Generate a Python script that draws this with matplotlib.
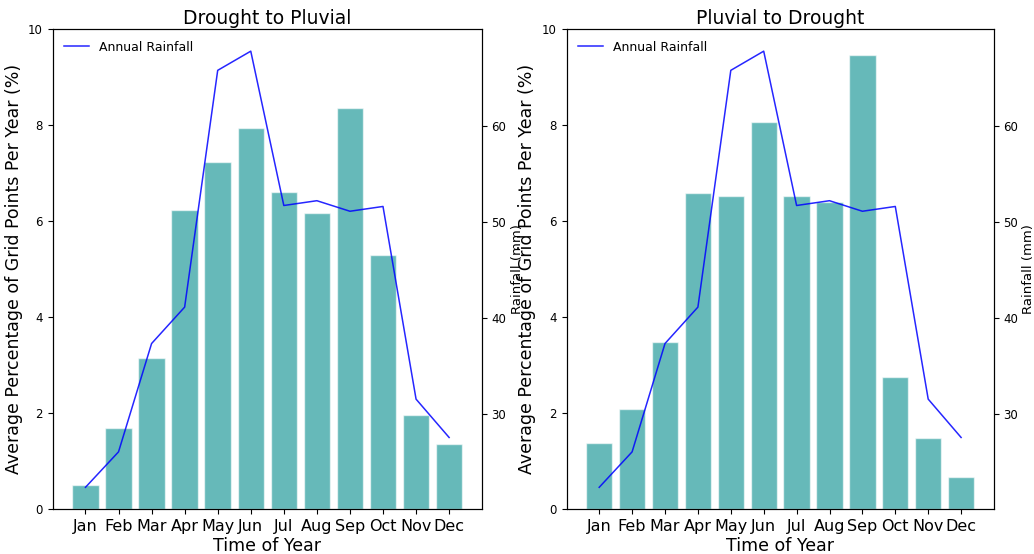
import matplotlib
matplotlib.use("Agg")
import matplotlib.pyplot as plt
import numpy as np

months = ["Jan", "Feb", "Mar", "Apr", "May", "Jun",
          "Jul", "Aug", "Sep", "Oct", "Nov", "Dec"]

# average % of grid points per year
drought_to_pluvial = [0.50, 1.70, 3.15, 6.23, 7.23, 7.94, 6.62, 6.18, 8.37, 5.30, 1.96, 1.35]
pluvial_to_drought = [1.38, 2.08, 3.49, 6.58, 6.53, 8.07, 6.53, 6.41, 9.46, 2.75, 1.49, 0.66]

# mean monthly rainfall (mm)
rainfall = [22.3, 26.0, 37.3, 41.1, 65.8, 67.8, 51.7, 52.2, 51.1, 51.6, 31.5, 27.5]

panels = [
    ("Drought to Pluvial", drought_to_pluvial, [0.051, 0.081, 0.415, 0.866]),
    ("Pluvial to Drought", pluvial_to_drought, [0.548, 0.081, 0.413, 0.866]),
]

fig = plt.figure(figsize=(10.34, 5.54), dpi=100)
x = np.arange(len(months))

for title, values, rect in panels:
    ax = fig.add_axes(rect)
    ax.bar(x, values, width=0.8, color="darkcyan", alpha=0.6,
           edgecolor="white", linewidth=1)
    ax.set_ylim(0, 10)
    ax.set_xticks(x)
    ax.set_xticklabels(months, fontsize=11.5)
    ax.tick_params(axis="y", labelsize=8.5)
    ax.set_xlabel("Time of Year", fontsize=12.5, labelpad=2)
    ax.set_ylabel("Average Percentage of Grid Points Per Year (%)", fontsize=12.5)
    ax.set_title(title, fontsize=13.5, pad=4)

    ax2 = ax.twinx()
    ax2.plot(x, rainfall, color="blue", alpha=0.85, linewidth=1.1,
             label="Annual Rainfall")
    ax2.set_yticks([30, 40, 50, 60])
    ax2.tick_params(axis="y", labelsize=8.5)
    ax2.set_ylabel("Rainfall (mm)", fontsize=9.5, labelpad=3)
    ax2.legend(loc="upper left", frameon=False, fontsize=9)

fig.savefig("out.png", dpi=100)
